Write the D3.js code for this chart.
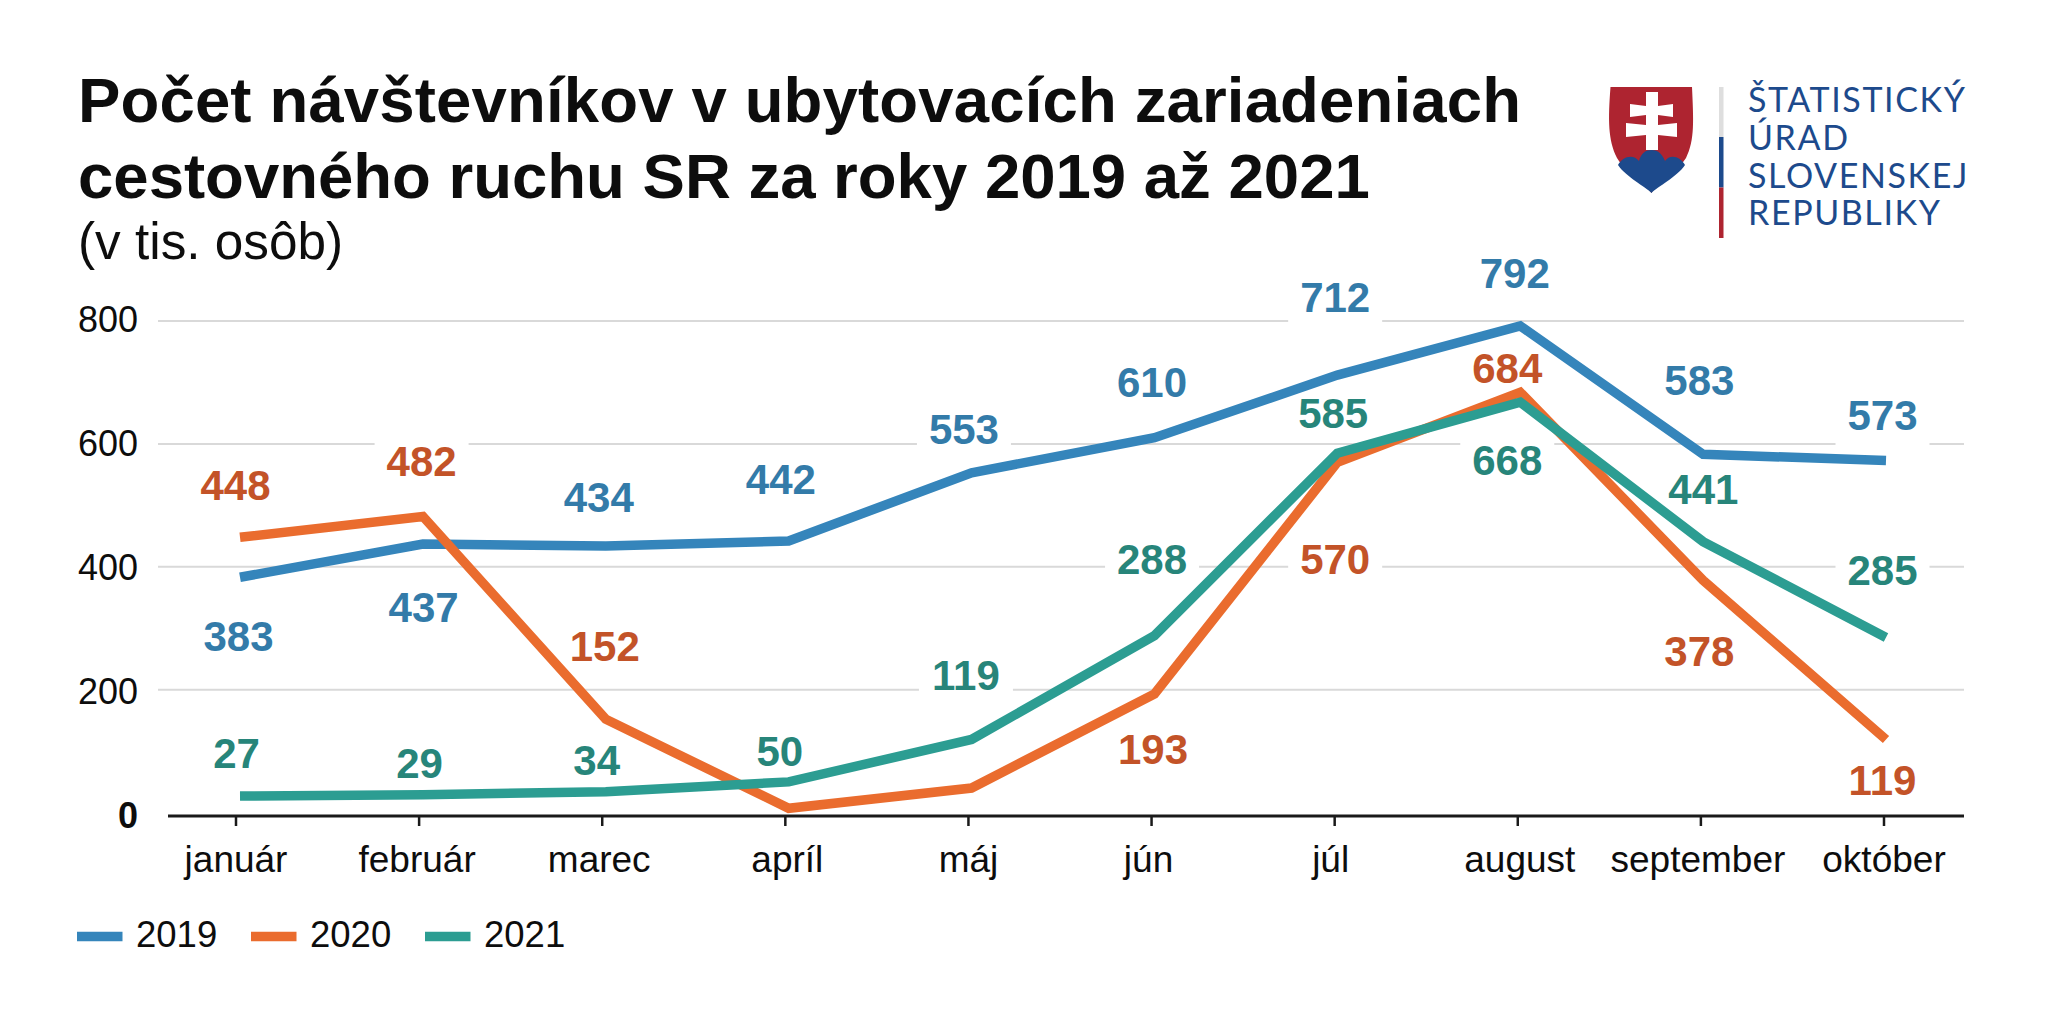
<!DOCTYPE html>
<html><head><meta charset="utf-8">
<script src="https://cdn.jsdelivr.net/npm/d3@7"></script>
<style>html,body{margin:0;padding:0;background:#fff}svg{display:block}text{font-family:"Liberation Sans",Arial,sans-serif}</style>
</head><body><svg id="c" width="2048" height="1024"></svg>
<script>
const months=["január","február","marec","apríl","máj","jún","júl","august","september","október"];
const years=["2019","2020","2021"];
const v2019=[383,437,434,442,553,610,712,792,583,573];
const v2020=[448,482,152,7,40,193,570,684,378,119];
const v2021=[27,29,34,50,119,288,585,668,441,285];
const show2020=[1,1,1,0,0,1,1,1,1,1];
const yTicks=[0,200,400,600,800];
const titleLines=["Počet návštevníkov v ubytovacích zariadeniach","cestovného ruchu SR za roky 2019 až 2021"];
const subtitle="(v tis. osôb)";
const logoLines=["ŠTATISTICKÝ","ÚRAD","SLOVENSKEJ","REPUBLIKY"];
// label nudges relative to each tick / value
const off2019=[[3,59],[5,63],[-3,-49],[-4,-62],[-4,-43.5],[1,-55],[1,-78],[-2.5,-53],[-1,-74],[-1,-45]];
const off2020=[[0,-52],[3,-55.5],[3,-72.5],[0,0],[0,0],[2,55],[1,97],[-10,-24],[-1,71],[-1,40.5]];
const off2021=[[1,-43],[1,-31.5],[-5,-31],[-5,-31],[-2,-64],[1,-76],[-1,-40],[-10,58],[3,-52],[-1,-67.5]];
const monthNudge=[0,-2,-3,2,0,-3,-4,2,-3,0];
const colors=["#3585bb","#ea6c2e","#2c9d92"];
const labelColors=["#337ba9","#c35328","#27857a"];

const svg=d3.select("#c");
const x=d3.scalePoint().domain(months).range([235.5,1883.5]);
const xLine=d3.scalePoint().domain(months).range([240,1886]);
const y=d3.scaleLinear().domain([0,800]).range([812.6,321]);
const yLabel=d3.scaleLinear().domain([0,800]).range([827,331]);
const axisY=816, gridL=158, axisL=168, right=1964;

// title
svg.selectAll(".t").data(titleLines).join("text").attr("class","t")
 .attr("x",78).attr("y",(d,i)=>122+i*75.5).attr("font-size",63.5).attr("font-weight",700).attr("fill","#0d0d0d")
 .style("letter-spacing",(d,i)=>i===0?"0.15px":"0px").text(d=>d);
svg.append("text").attr("x",78).attr("y",258.5).attr("font-size",51.3).attr("fill","#0d0d0d").text(subtitle);

// grid
const grid=svg.append("g");
grid.selectAll("line").data(yTicks.filter(d=>d>0)).join("line")
 .attr("x1",gridL).attr("x2",right).attr("y1",d=>y(d)).attr("y2",d=>y(d)).attr("stroke","#d9d9d9").attr("stroke-width",2);

const series=[v2019,v2020,v2021];
const offs=[off2019,off2020,off2021];
const labels=[];
series.forEach((vals,s)=>vals.forEach((v,i)=>{
  if(s===1&&!show2020[i])return;
  labels.push({v,s,px:x(months[i])+offs[s][i][0],py:y(v)+offs[s][i][1]});
}));
// white label backings
svg.append("g").selectAll("rect").data(labels).join("rect")
 .attr("x",d=>d.px-47).attr("y",d=>d.py-29.5).attr("width",94).attr("height",59).attr("fill","#fff");

// axes
const ax=d3.axisBottom(x).tickSize(10).tickPadding(16);
const gx=svg.append("g").attr("transform",`translate(0,${axisY})`).call(ax);
gx.select(".domain").remove();
gx.append("line").attr("x1",axisL).attr("x2",right).attr("stroke","#1a1a1a").attr("stroke-width",3);
gx.selectAll(".tick line").attr("stroke","#1a1a1a").attr("stroke-width",2.5);
gx.selectAll(".tick text").attr("font-size",37).attr("fill","#0d0d0d").attr("font-family","Liberation Sans")
 .attr("y",null).attr("dy",null).attr("transform",(d,i)=>`translate(${monthNudge[i]},56)`);
const ay=d3.axisLeft(yLabel).tickValues(yTicks).tickSize(0).tickPadding(0);
const gy=svg.append("g").attr("transform","translate(138,0)").call(ay);
gy.select(".domain").remove();
gy.selectAll(".tick text").attr("font-size",36).attr("fill","#0d0d0d").attr("font-family","Liberation Sans")
 .attr("font-weight",d=>d===0?700:400).attr("dy",0);

// lines
const line=d3.line().x((d,i)=>xLine(months[i])).y(d=>y(d));
svg.append("g").selectAll("path").data(series).join("path").attr("d",line)
 .attr("fill","none").attr("stroke",(d,i)=>colors[i]).attr("stroke-width",9.5).attr("stroke-linejoin","miter");

// labels
svg.append("g").selectAll("text").data(labels).join("text")
 .attr("x",d=>d.px).attr("y",d=>d.py).attr("text-anchor","middle").attr("dy","0.35em")
 .attr("font-size",42).attr("font-weight",700).attr("fill",d=>labelColors[d.s]).text(d=>d.v);

// legend
const lg=svg.append("g").selectAll("g").data(years).join("g").attr("transform",(d,i)=>`translate(${77+i*174},936.5)`);
lg.append("line").attr("x1",0).attr("x2",45.5).attr("stroke",(d,i)=>colors[i]).attr("stroke-width",9.5);
lg.append("text").attr("x",59).attr("y",10).attr("font-size",36.5).attr("fill","#0d0d0d").text(d=>d);

// logo
const logo=svg.append("g");
const shield="M1610.5 87H1692C1693.5 120 1695 140 1686 158C1675 175 1655 186 1651.5 193C1647 186 1627 175 1617 158C1608 140 1608 120 1610.5 87Z";
logo.append("path").attr("d",shield).attr("fill","#ae2430");
logo.append("path").attr("d","M1618 165C1622 157 1633 153 1639 161C1641 153 1646 150 1651.5 150C1657 150 1662 153 1665 161C1670 153 1681 157 1685 165C1677 177 1657 187 1651.5 193C1646 187 1626 177 1618 165Z").attr("fill","#1d4a8c");
logo.append("path").attr("d","M1646 92H1658V106L1673 104V117L1658 115V125L1677 123V137L1658 135V150H1646V135L1626 137V123L1646 125V115L1630 117V104L1646 106Z").attr("fill","#fff");
[["#dedede",87,137],["#1d4a8c",137,187.5],["#ae2430",187.5,238]].forEach(b=>logo.append("rect").attr("x",1719).attr("y",b[1]).attr("width",4.5).attr("height",b[2]-b[1]).attr("fill",b[0]));
logo.selectAll("text").data(logoLines).join("text").attr("x",1748).attr("y",(d,i)=>112.3+i*37.6)
 .attr("font-size",34).attr("fill","#1d4a8c").style("font-family","Lato").style("letter-spacing","1.6px").text(d=>d);
</script></body></html>
